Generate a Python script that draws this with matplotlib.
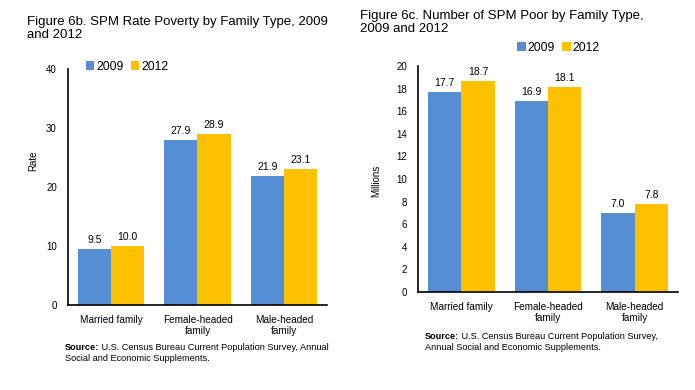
import matplotlib
matplotlib.use("Agg")
import matplotlib.pyplot as plt
import numpy as np

plt.rcParams['font.family'] = ['Liberation Sans', 'DejaVu Sans']

categories = ["Married family", "Female-headed\nfamily", "Male-headed\nfamily"]
years = ["2009", "2012"]
rate_2009 = [9.5, 27.9, 21.9]
rate_2012 = [10.0, 28.9, 23.1]
num_2009 = [17.7, 16.9, 7.0]
num_2012 = [18.7, 18.1, 7.8]
rate_ticks = [0, 10, 20, 30, 40]
num_ticks = [0, 2, 4, 6, 8, 10, 12, 14, 16, 18, 20]

BLUE = "#558ED5"
YELLOW = "#FFC000"

fig = plt.figure(figsize=(6.95, 3.9), dpi=100)

def panel(rect, v1, v2, ticks, ylabel, ylabel_pos, leg_anchor, leg_fs):
    ax = fig.add_axes(rect)
    x = np.arange(len(categories))
    w = 0.385
    b1 = ax.bar(x - w / 2, v1, w, color=BLUE, label=years[0])
    b2 = ax.bar(x + w / 2, v2, w, color=YELLOW, label=years[1])
    for b in (b1, b2):
        ax.bar_label(b, fmt='%.1f', padding=3, fontsize=7.5)
    ax.set_xlim(-0.5, len(categories) - 0.5)
    ax.set_ylim(ticks[0], ticks[-1])
    ax.set_yticks(ticks)
    ax.set_xticks(x)
    ax.set_xticklabels(categories, fontsize=7.2)
    ax.tick_params(axis='both', length=0)
    ax.tick_params(axis='x', pad=7)
    ax.tick_params(axis='y', labelsize=7, pad=8)
    for s in ('top', 'right'):
        ax.spines[s].set_visible(False)
    for s in ('left', 'bottom'):
        ax.spines[s].set_linewidth(1.2)
    ax.set_ylabel(ylabel, fontsize=7)
    ax.yaxis.set_label_coords(*ylabel_pos)
    ax.legend(loc='center', bbox_to_anchor=leg_anchor, ncol=2, frameon=False,
              fontsize=leg_fs, handlelength=0.7, handleheight=0.7,
              handletextpad=0.15, columnspacing=0.6, borderaxespad=0)
    return ax

ax1 = panel([68 / 695, 1 - 305 / 390, 259 / 695, 236 / 390],
            rate_2009, rate_2012, rate_ticks, "Rate", (-0.116, 0.61), (0.228, 1.01), 8.8)
ax2 = panel([418 / 695, 1 - 292 / 390, 260 / 695, 226 / 390],
            num_2009, num_2012, num_ticks, "Millions", (-0.142, 0.49), (0.54, 1.08), 8.8)

fig.text(27 / 695, 1 - 16 / 390, "Figure 6b. SPM Rate Poverty by Family Type, 2009\nand 2012",
         fontsize=9.5, va='top', ha='left', linespacing=1.12)
fig.text(360 / 695, 1 - 10 / 390, "Figure 6c. Number of SPM Poor by Family Type,\n2009 and 2012",
         fontsize=9.5, va='top', ha='left', linespacing=1.12)

def source(x, y, rest1, line2):
    fs = 6.6
    t = fig.text(x, y, "Source:", fontsize=fs, fontweight='bold', va='top', ha='left')
    plt.annotate(rest1, xy=(1, 0), xycoords=t, va='bottom', ha='left', fontsize=fs,
                 annotation_clip=False)
    fig.text(x, y - 11 / 390, line2, fontsize=fs, va='top', ha='left')

source(65 / 695, 1 - 343 / 390, " U.S. Census Bureau Current Population Survey, Annual",
       "Social and Economic Supplements.")
source(425 / 695, 1 - 332 / 390, " U.S. Census Bureau Current Population Survey,",
       "Annual Social and Economic Supplements.")

fig.savefig("out.png", dpi=100)
